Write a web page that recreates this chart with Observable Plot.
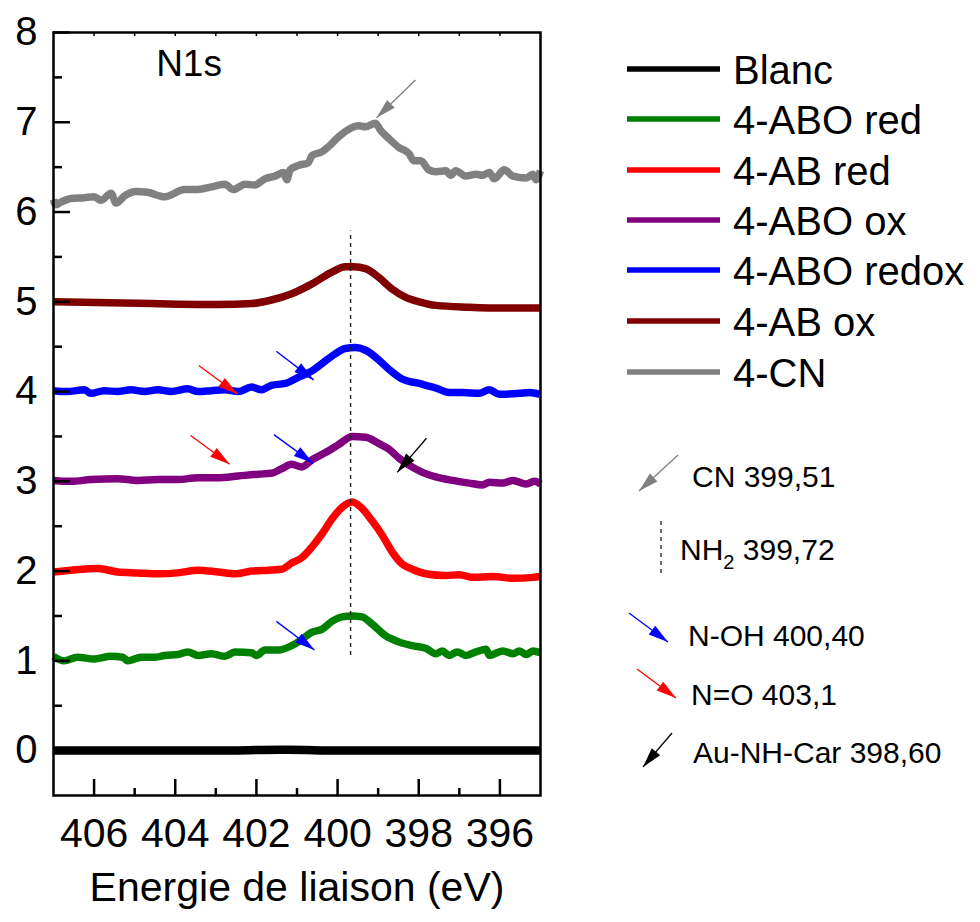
<!DOCTYPE html>
<html>
<head>
<meta charset="utf-8">
<script src="https://cdn.jsdelivr.net/npm/d3@7"></script>
<script src="https://cdn.jsdelivr.net/npm/@observablehq/plot@0.6"></script>
<style>
  body { margin: 0; background: #fff; }
  #wrap { position: relative; width: 980px; height: 922px; font-family: "Liberation Sans", Arial, sans-serif; }
  #wrap svg { position: absolute; left: 0; top: 0; }
</style>
</head>
<body>
<div id="wrap"></div>
<script>
// ---------- Data ----------
const seriesNames  = ["Blanc", "4-ABO red", "4-AB red", "4-ABO ox", "4-ABO redox", "4-AB ox", "4-CN"];
const seriesColors = ["#000000", "#008000", "#ff0000", "#800080", "#0000ff", "#800000", "#808080"];

const blancE = [407.0, 405.0, 403.0, 401.4, 401.2, 400.0, 398.0, 396.0, 395.0];
const blancV = [0.00, 0.00, 0.00, 0.01, 0.01, 0.00, 0.00, 0.00, 0.00];

const aboRedE = [407.0, 406.74, 406.41, 406.0, 405.58, 405.30, 405.17, 404.84, 404.51, 404.26, 403.94, 403.69, 403.44, 403.11, 402.78, 402.53, 402.12, 402.0, 401.79, 401.46, 401.13, 400.88, 400.63, 400.39, 400.14, 399.89, 399.64, 399.40, 399.15, 398.82, 398.49, 398.16, 397.83, 397.58, 397.42, 397.25, 397.05, 396.84, 396.59, 396.34, 396.26, 395.93, 395.68, 395.52, 395.35, 395.19, 395.0];
const aboRedV = [1.05, 1.00, 1.04, 1.02, 1.05, 1.04, 1.00, 1.04, 1.04, 1.06, 1.07, 1.10, 1.06, 1.08, 1.05, 1.10, 1.09, 1.06, 1.12, 1.12, 1.17, 1.24, 1.32, 1.35, 1.44, 1.49, 1.50, 1.49, 1.41, 1.28, 1.21, 1.17, 1.14, 1.08, 1.11, 1.06, 1.10, 1.06, 1.10, 1.13, 1.06, 1.11, 1.08, 1.11, 1.07, 1.11, 1.09];

const abRedE = [407.0, 406.57, 405.91, 405.42, 404.92, 404.43, 403.94, 403.44, 402.94, 402.53, 402.12, 401.71, 401.38, 401.13, 400.88, 400.63, 400.39, 400.14, 399.89, 399.64, 399.40, 399.15, 398.90, 398.65, 398.41, 398.16, 397.83, 397.33, 397.00, 396.67, 396.18, 395.68, 395.19, 395.0];
const abRedV = [1.99, 2.01, 2.03, 1.99, 1.98, 1.97, 1.98, 2.01, 1.99, 1.97, 2.00, 2.01, 2.02, 2.09, 2.15, 2.27, 2.41, 2.58, 2.71, 2.77, 2.70, 2.56, 2.40, 2.21, 2.08, 2.02, 1.97, 1.95, 1.96, 1.93, 1.94, 1.92, 1.93, 1.94];

const aboOxE = [407.0, 406.57, 406.08, 405.42, 404.92, 404.43, 403.94, 403.44, 402.94, 402.45, 401.95, 401.63, 401.38, 401.13, 400.88, 400.63, 400.30, 399.97, 399.64, 399.31, 398.98, 398.74, 398.49, 398.24, 397.91, 397.58, 397.17, 396.76, 396.43, 396.26, 395.93, 395.68, 395.35, 395.15, 395.0];
const aboOxV = [3.01, 3.00, 3.02, 3.03, 3.01, 3.02, 3.02, 3.04, 3.04, 3.06, 3.08, 3.09, 3.14, 3.19, 3.16, 3.24, 3.32, 3.41, 3.50, 3.49, 3.42, 3.36, 3.26, 3.18, 3.10, 3.05, 3.01, 2.98, 2.96, 2.99, 2.98, 3.01, 2.97, 3.00, 2.97];

const aboRedoxE = [407.0, 406.66, 406.24, 406.08, 405.75, 405.42, 405.09, 404.76, 404.43, 404.10, 403.69, 403.44, 403.11, 402.78, 402.45, 402.12, 401.87, 401.63, 401.29, 400.96, 400.63, 400.39, 400.06, 399.81, 399.56, 399.31, 398.98, 398.74, 398.41, 397.99, 397.58, 397.25, 396.92, 396.51, 396.26, 396.01, 395.52, 395.27, 395.02];
const aboRedoxV = [4.01, 4.00, 4.02, 3.98, 4.01, 4.00, 4.02, 4.00, 4.02, 4.00, 4.03, 4.00, 4.01, 4.02, 4.00, 4.05, 4.02, 4.07, 4.09, 4.16, 4.23, 4.31, 4.42, 4.48, 4.49, 4.46, 4.35, 4.25, 4.14, 4.09, 4.04, 3.99, 3.99, 3.98, 4.02, 3.97, 3.98, 3.99, 3.97];

const abOxE = [407.0, 404.59, 402.94, 402.12, 401.63, 401.13, 400.63, 400.14, 399.81, 399.60, 399.31, 398.98, 398.65, 398.32, 397.99, 397.58, 396.76, 395.93, 395.0];
const abOxV = [5.00, 4.98, 4.97, 4.98, 5.02, 5.09, 5.20, 5.33, 5.39, 5.39, 5.37, 5.27, 5.14, 5.05, 5.00, 4.96, 4.94, 4.93, 4.93];

const cnE = [407.0, 406.95, 406.82, 406.57, 406.24, 406.0, 405.83, 405.58, 405.46, 405.25, 404.97, 404.68, 404.26, 403.77, 403.44, 403.11, 402.78, 402.57, 402.28, 402.04, 401.79, 401.54, 401.33, 401.25, 401.17, 400.96, 400.72, 400.63, 400.39, 400.22, 399.97, 399.73, 399.48, 399.31, 399.07, 398.94, 398.74, 398.49, 398.24, 398.12, 397.95, 397.75, 397.58, 397.33, 397.21, 397.09, 396.84, 396.59, 396.43, 396.26, 396.14, 395.89, 395.68, 395.35, 395.19, 395.11, 395.0];
const cnV = [6.14, 6.08, 6.11, 6.15, 6.16, 6.17, 6.13, 6.21, 6.10, 6.18, 6.23, 6.22, 6.17, 6.25, 6.25, 6.28, 6.31, 6.25, 6.31, 6.30, 6.37, 6.40, 6.44, 6.36, 6.47, 6.52, 6.55, 6.63, 6.67, 6.73, 6.84, 6.92, 6.96, 6.95, 6.99, 6.91, 6.82, 6.72, 6.65, 6.57, 6.57, 6.47, 6.45, 6.46, 6.41, 6.46, 6.40, 6.42, 6.41, 6.44, 6.37, 6.47, 6.40, 6.38, 6.42, 6.36, 6.46];

// Axis ticks
const xTickLabels = [406, 404, 402, 400, 398, 396];
const xMinorTicks = [405, 403, 401, 399, 397];
const xTopTicks   = [406, 405, 404, 403, 402, 401, 400, 399, 398, 397, 396];
const yTickLabels = [0, 1, 2, 3, 4, 5, 6, 7, 8];
const yMinorTicks = [0.5, 1.5, 2.5, 3.5, 4.5, 5.5, 6.5, 7.5];

// NH2 reference line
const nh2LineE = [399.68];
const nh2LineFrom = [1.06];
const nh2LineTo = [5.79];

// Arrows in the plot (start -> tip)
const arrowX1 = [398.08, 401.51, 403.42, 403.62, 401.57, 397.81, 401.51];
const arrowY1 = [7.47, 4.45, 4.29, 3.51, 3.52, 3.48, 1.44];
const arrowX2 = [399.04, 400.59, 402.46, 402.66, 400.60, 398.53, 400.57];
const arrowY2 = [7.05, 4.13, 3.97, 3.19, 3.20, 3.10, 1.12];
const arrowColors = ["#808080", "#0000ff", "#ff0000", "#ff0000", "#0000ff", "#000000", "#0000ff"];

// Annotation legend
const annotLabels = ["CN 399,51", "NH2 399,72", "N-OH 400,40", "N=O 403,1", "Au-NH-Car 398,60"];
const annotColors = ["#808080", "#333333", "#0000ff", "#ff0000", "#000000"];

const panelLabel = "N1s";
const xAxisLabel = "Energie de liaison (eV)";

// ---------- Build tables ----------
const seriesE = [blancE, aboRedE, abRedE, aboOxE, aboRedoxE, abOxE, cnE];
const seriesV = [blancV, aboRedV, abRedV, aboOxV, aboRedoxV, abOxV, cnV];
const seriesRows = seriesNames.map((name, i) => seriesE[i].map((e, j) => ({series: name, E: e, v: seriesV[i][j]})));
const arrowRows = arrowX1.map((x1, i) => ({x1, y1: arrowY1[i], x2: arrowX2[i], y2: arrowY2[i], color: arrowColors[i]}));
const nh2Rows = nh2LineE.map((e, i) => ({E: e, from: nh2LineFrom[i], to: nh2LineTo[i]}));

const FONT = '"Liberation Sans", Arial, sans-serif';
const W = 560, H = 922, ML = 53, MR = 20, MT = 32, MB = 127;
const PW = W - ML - MR, PH = H - MT - MB;

const base = {
  width: W, height: H,
  marginLeft: ML, marginRight: MR, marginTop: MT, marginBottom: MB,
  x: {domain: [407, 395]},
  y: {domain: [-0.5, 8]},
  color: {type: "identity"},
  style: {fontFamily: FONT, background: "transparent", color: "black", overflow: "visible"}
};

// probe scales for arrowhead angles
const probe = Plot.plot({...base, marks: [Plot.frame()]});
const sx = probe.scale("x"), sy = probe.scale("y");
const px = v => sx.apply(v), py = v => sy.apply(v);

function headSymbol(angle, L = 20, Wd = 11) {
  const c = Math.cos(angle), s = Math.sin(angle);
  const bx = -L * c, by = -L * s;
  const hx = -s * Wd / 2, hy = c * Wd / 2;
  return {
    draw(ctx) {
      ctx.moveTo(0, 0);
      ctx.lineTo(bx + hx, by + hy);
      ctx.lineTo(bx - hx, by - hy);
      ctx.closePath();
    }
  };
}

const headMarks = arrowRows.map(d => {
  const ang = Math.atan2(py(d.y2) - py(d.y1), px(d.x2) - px(d.x1));
  return Plot.dot([d], {x: "x2", y: "y2", symbol: headSymbol(ang), fill: d.color, stroke: "none", r: 6});
});

const lineMarks = seriesRows.map((rows, i) =>
  Plot.line(rows, {x: "E", y: "v", stroke: seriesColors[i], strokeWidth: seriesNames[i] === "Blanc" ? 8.5 : 7.5,
    curve: "monotone-x", strokeLinecap: "butt", strokeLinejoin: "round"})
);

const chart = Plot.plot({
  ...base,
  marks: [
    ...lineMarks,
    Plot.ruleX(nh2Rows, {x: "E", y1: "from", y2: "to", stroke: "#222", strokeWidth: 1.4, strokeDasharray: "4,4"}),
    Plot.link(arrowRows, {x1: "x1", y1: "y1", x2: "x2", y2: "y2", stroke: "color", strokeWidth: 1.3}),
    ...headMarks,
    Plot.text([panelLabel], {x: 403.66, y: 7.65, fontSize: 37, fill: "black"}),
    Plot.frame({stroke: "black", strokeWidth: 2.5}),
    Plot.tickX(xTickLabels, {x: d => d, insetTop: PH - 16, stroke: "black", strokeWidth: 2.5}),
    Plot.tickX(xMinorTicks, {x: d => d, insetTop: PH - 7, stroke: "black", strokeWidth: 2.5}),
    Plot.tickX(xTopTicks, {x: d => d, insetBottom: PH - 4, stroke: "black", strokeWidth: 1.5}),
    Plot.tickY(yTickLabels, {y: d => d, insetRight: PW - 17, stroke: "black", strokeWidth: 2.5}),
    Plot.tickY(yMinorTicks, {y: d => d, insetRight: PW - 9, stroke: "black", strokeWidth: 2.5}),
    Plot.axisX(xTickLabels, {tickSize: 0, tickPadding: 22, fontSize: 41, label: null, fill: "black", tickFormat: d => String(d)}),
    Plot.axisY(yTickLabels, {tickSize: 0, tickPadding: 16, fontSize: 40, label: null, fill: "black", tickFormat: d => String(d)}),
    Plot.text([xAxisLabel], {frameAnchor: "bottom", dy: 105, fontSize: 41, fill: "black"})
  ]
});

const wrap = document.getElementById("wrap");
wrap.appendChild(chart);

// ---------- Legend (right side) ----------
const leg = d3.create("svg").attr("width", 980).attr("height", 922)
  .style("font-family", FONT).style("pointer-events", "none");

const legendRowY = [69, 119, 170, 220, 270, 321, 372];
seriesNames.forEach((name, i) => {
  const y = legendRowY[i];
  leg.append("line").attr("x1", 627).attr("x2", 720).attr("y1", y).attr("y2", y)
    .attr("stroke", seriesColors[i]).attr("stroke-width", 5.5);
  leg.append("text").attr("x", 733).attr("y", y + 14.5).attr("font-size", 40).attr("fill", "black").text(name);
});

function legArrow(x1, y1, x2, y2, color) {
  leg.append("line").attr("x1", x1).attr("y1", y1).attr("x2", x2).attr("y2", y2)
    .attr("stroke", color).attr("stroke-width", 1.3);
  const a = Math.atan2(y2 - y1, x2 - x1), L = 20, Wd = 11;
  const c = Math.cos(a), s = Math.sin(a);
  const bx = x2 - L * c, by = y2 - L * s, hx = -s * Wd / 2, hy = c * Wd / 2;
  leg.append("path").attr("d", `M${x2},${y2}L${bx + hx},${by + hy}L${bx - hx},${by - hy}Z`).attr("fill", color);
}

// CN
legArrow(678, 455, 639, 491, annotColors[0]);
leg.append("text").attr("x", 692).attr("y", 487).attr("font-size", 30).text(annotLabels[0]);
// NH2
leg.append("line").attr("x1", 661).attr("x2", 661).attr("y1", 521).attr("y2", 577)
  .attr("stroke", annotColors[1]).attr("stroke-width", 1.4).attr("stroke-dasharray", "4,4");
{
  const t = leg.append("text").attr("x", 680).attr("y", 560).attr("font-size", 30);
  t.append("tspan").text("NH");
  t.append("tspan").attr("dy", 9).attr("font-size", 20).text("2");
  t.append("tspan").attr("dy", -9).text(" " + annotLabels[1].split(" ")[1]);
}
// N-OH
legArrow(629, 613, 668, 642, annotColors[2]);
leg.append("text").attr("x", 688).attr("y", 646).attr("font-size", 30).text(annotLabels[2]);
// N=O
legArrow(637, 669, 676, 698, annotColors[3]);
leg.append("text").attr("x", 691).attr("y", 705).attr("font-size", 30).text(annotLabels[3]);
// Au-NH-Car
legArrow(672, 733, 643, 767, annotColors[4]);
leg.append("text").attr("x", 693).attr("y", 763).attr("font-size", 30).text(annotLabels[4]);

wrap.appendChild(leg.node());
</script>
</body>
</html>
